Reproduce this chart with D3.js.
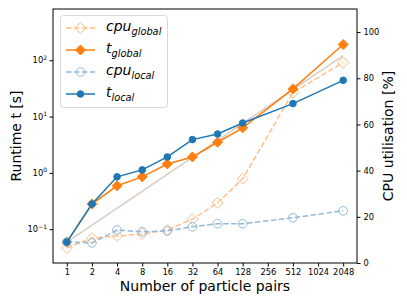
<!DOCTYPE html>
<html>
<head>
<meta charset="utf-8">
<script src="https://cdn.jsdelivr.net/npm/d3@7"></script>
<style>
  body { margin: 0; background: #fff; }
  text { font-family: "DejaVu Sans", sans-serif; }
</style>
</head>
<body>
<div id="chart"></div>
<script>
// data
var pairs = [1, 2, 4, 8, 16, 32, 64, 128, 512, 2048];
var tickPairs = [1, 2, 4, 8, 16, 32, 64, 128, 256, 512, 1024, 2048];
var tGlobal = [0.059, 0.28, 0.59, 0.85, 1.44, 1.92, 3.5, 6.3, 31, 190];
var tLocal = [0.059, 0.28, 0.85, 1.13, 1.92, 3.9, 4.9, 7.7, 17, 44];
var cpuGlobal = [6.5, 10.8, 11.7, 12.6, 14.3, 19, 26, 36.5, 73.8, 86.8];
var cpuLocal = [9.1, 8.7, 14.3, 13.5, 13.9, 15.7, 17, 17, 19.6, 22.6];
var idealEnds = [1, 2048];
var cpuTicks = [0, 20, 40, 60, 80, 100];
var logTicks = [-1, 0, 1, 2];

var W = 407, H = 305;
// plot box (note: "top" is a reserved window property, so use px names)
var pxLeft = 53, pxRight = 357, pxTop = 9, pxBottom = 263;

var svg = d3.select("#chart").append("svg")
  .attr("width", W).attr("height", H);

var x = d3.scaleLog().base(2)
  .domain([Math.pow(2, -0.55), Math.pow(2, 11.55)])
  .range([pxLeft, pxRight]);
var yL = d3.scaleLog()
  .domain([Math.pow(10, -1.6), Math.pow(10, 2.91)])
  .range([pxBottom, pxTop]);
var yR = d3.scaleLinear()
  .domain([0, 110])
  .range([pxBottom, pxTop]);

var orange = "#ff7f0e", blue = "#1f77b4";
var orangeLt = "#ffbf87", blueLt = "#8fbbd9";

// clip
svg.append("clipPath").attr("id", "clip")
  .append("rect").attr("x", pxLeft).attr("y", pxTop)
  .attr("width", pxRight - pxLeft).attr("height", pxBottom - pxTop);

var plot = svg.append("g").attr("clip-path", "url(#clip)");

// ideal linear scaling
var ideal = idealEnds.map(function(n) { return [n, tGlobal[0] * n]; });
plot.append("path")
  .attr("d", d3.line().x(function(d) { return x(d[0]); }).y(function(d) { return yL(d[1]); })(ideal))
  .attr("fill", "none").attr("stroke", "#d9cdc3").attr("stroke-width", 1.5);

function series(vals, scale, color, dashed) {
  var line = d3.line()
    .x(function(d, i) { return x(pairs[i]); })
    .y(function(d) { return scale(d); });
  plot.append("path")
    .attr("d", line(vals))
    .attr("fill", "none")
    .attr("stroke", color)
    .attr("stroke-width", 1.5)
    .attr("stroke-dasharray", dashed ? "5.5,2.5" : null);
}

function diamond(g, cx, cy, r, color, filled) {
  g.append("path")
    .attr("d", "M" + cx + "," + (cy - r) + "L" + (cx + r) + "," + cy + "L" + cx + "," + (cy + r) + "L" + (cx - r) + "," + cy + "Z")
    .attr("fill", filled ? color : "none")
    .attr("stroke", color).attr("stroke-width", 1);
}
function circle(g, cx, cy, r, color, filled) {
  g.append("circle").attr("cx", cx).attr("cy", cy).attr("r", r)
    .attr("fill", filled ? color : "none")
    .attr("stroke", color).attr("stroke-width", 1);
}

series(cpuGlobal, yR, orangeLt, true);
cpuGlobal.forEach(function(v, i) { diamond(plot, x(pairs[i]), yR(v), 5.5, orangeLt, false); });
series(tGlobal, yL, orange, false);
tGlobal.forEach(function(v, i) { diamond(plot, x(pairs[i]), yL(v), 5, orange, true); });
series(cpuLocal, yR, blueLt, true);
cpuLocal.forEach(function(v, i) { circle(plot, x(pairs[i]), yR(v), 4.3, blueLt, false); });
series(tLocal, yL, blue, false);
tLocal.forEach(function(v, i) { circle(plot, x(pairs[i]), yL(v), 3.3, blue, true); });

// axes frame
svg.append("rect").attr("x", pxLeft).attr("y", pxTop)
  .attr("width", pxRight - pxLeft).attr("height", pxBottom - pxTop)
  .attr("fill", "none").attr("stroke", "#000").attr("stroke-width", 1);

// x axis
var xAxis = svg.append("g").attr("transform", "translate(0," + pxBottom + ")")
  .call(d3.axisBottom(x).tickValues(tickPairs).tickFormat(d3.format("d")).tickSize(3.5).tickPadding(3));
xAxis.select(".domain").remove();
xAxis.selectAll("text").attr("font-size", 8.3).attr("fill", "#000").attr("font-family", "DejaVu Sans");

// left axis with 10^n labels
var yAxisL = svg.append("g").attr("transform", "translate(" + pxLeft + ",0)")
  .call(d3.axisLeft(yL).tickValues(logTicks.map(function(e) { return Math.pow(10, e); })).tickFormat("").tickSize(3.5));
yAxisL.select(".domain").remove();
logTicks.forEach(function(e) {
  var t = svg.append("text")
    .attr("x", pxLeft - 6).attr("y", yL(Math.pow(10, e)) + 3)
    .attr("text-anchor", "end").attr("font-size", 8.3);
  t.append("tspan").text("10");
  t.append("tspan").attr("dy", -3.5).attr("font-size", 6).text(e < 0 ? "\u2212" + Math.abs(e) : e);
});

// right axis
var yAxisR = svg.append("g").attr("transform", "translate(" + pxRight + ",0)")
  .call(d3.axisRight(yR).tickValues(cpuTicks).tickSize(3.5).tickPadding(3));
yAxisR.select(".domain").remove();
yAxisR.selectAll("text").attr("font-size", 8.3).attr("fill", "#000").attr("font-family", "DejaVu Sans");

// axis labels
svg.append("text").attr("x", (pxLeft + pxRight) / 2).attr("y", 291)
  .attr("text-anchor", "middle").attr("font-size", 14).text("Number of particle pairs");
svg.append("text").attr("transform", "translate(21," + (pxTop + pxBottom) / 2 + ") rotate(-90)")
  .attr("text-anchor", "middle").attr("font-size", 14).text("Runtime t [s]");
svg.append("text").attr("transform", "translate(393," + (pxTop + pxBottom) / 2 + ") rotate(-90)")
  .attr("text-anchor", "middle").attr("font-size", 14).text("CPU utilisation [%]");

// legend
var leg = svg.append("g");
leg.append("rect").attr("x", 60.5).attr("y", 15.5).attr("width", 107).attr("height", 92)
  .attr("rx", 3).attr("fill", "#fff").attr("fill-opacity", 0.8)
  .attr("stroke", "#d9d9d9").attr("stroke-width", 1);
var items = [
  {main: "cpu", sub: "global", color: orangeLt, dashed: true, mark: "diamond", filled: false, r: 5.5},
  {main: "t", sub: "global", color: orange, dashed: false, mark: "diamond", filled: true, r: 5},
  {main: "cpu", sub: "local", color: blueLt, dashed: true, mark: "circle", filled: false, r: 4.3},
  {main: "t", sub: "local", color: blue, dashed: false, mark: "circle", filled: true, r: 3.3}
];
items.forEach(function(it, i) {
  var cy = 28 + i * 22;
  leg.append("line").attr("x1", 66).attr("x2", 95).attr("y1", cy).attr("y2", cy)
    .attr("stroke", it.color).attr("stroke-width", 1.5)
    .attr("stroke-dasharray", it.dashed ? "5.5,2.5" : null);
  if (it.mark === "diamond") diamond(leg, 80.5, cy, it.r, it.color, it.filled);
  else circle(leg, 80.5, cy, it.r, it.color, it.filled);
  var t = leg.append("text").attr("x", 106).attr("y", cy + 3)
    .attr("font-size", 14).attr("font-style", "italic");
  t.append("tspan").text(it.main);
  t.append("tspan").attr("dy", 3.5).attr("font-size", 9.8).text(it.sub);
});
</script>
</body>
</html>
